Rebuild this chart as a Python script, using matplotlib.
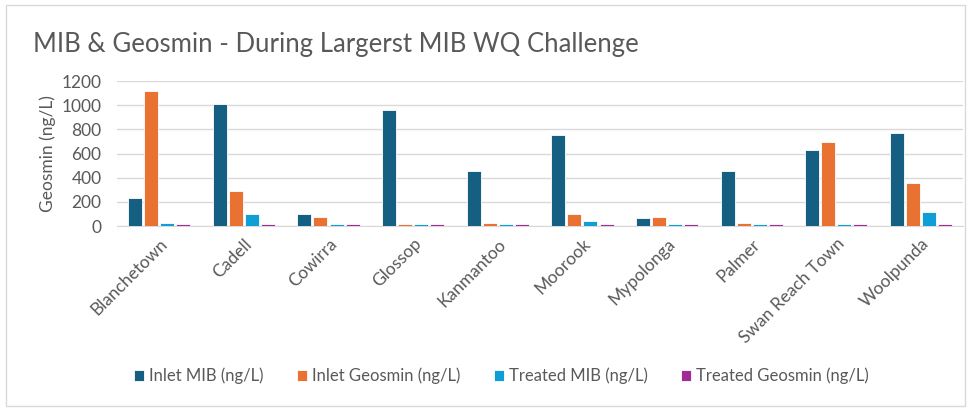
import matplotlib
matplotlib.use("Agg")
import matplotlib.pyplot as plt
import numpy as np
from matplotlib.patches import Rectangle

plt.rcParams['font.family'] = ['Lato', 'DejaVu Sans']

categories = ["Blanchetown", "Cadell", "Cowirra", "Glossop", "Kanmantoo", "Moorook",
              "Mypolonga", "Palmer", "Swan Reach Town", "Woolpunda"]
inlet_mib = [230, 1010, 100, 958, 455, 756, 64, 455, 629, 770]
inlet_geosmin = [1120, 290, 77, 15, 25, 102, 77, 25, 695, 353]
treated_mib = [25, 102, 15, 15, 15, 39, 15, 15, 15, 113]
treated_geosmin = [15, 15, 15, 15, 15, 15, 15, 15, 15, 15]

series = [
    ("Inlet MIB (ng/L)", inlet_mib, "#156082"),
    ("Inlet Geosmin (ng/L)", inlet_geosmin, "#E97132"),
    ("Treated MIB (ng/L)", treated_mib, "#0F9ED5"),
    ("Treated Geosmin (ng/L)", treated_geosmin, "#A02B93"),
]

fig = plt.figure(figsize=(9.74, 4.08), dpi=100)
ax = fig.add_axes([0.120, 0.446, 0.869, 0.355])

x = np.arange(len(categories))
slot = 0.19
bw = 0.165
for i, (name, vals, col) in enumerate(series):
    ax.bar(x + (i - 1.5) * slot, vals, width=bw, color=col, label=name,
           edgecolor="white", linewidth=0.6, zorder=3)

ax.set_xlim(-0.5, len(categories) - 0.5)
ax.set_ylim(0, 1200)
ax.set_yticks(range(0, 1201, 200))
ax.grid(axis='y', color='#d9d9d9', linewidth=1.0, zorder=0)
for s in ['top', 'right', 'left']:
    ax.spines[s].set_visible(False)
ax.spines['bottom'].set_color('#d9d9d9')
ax.tick_params(axis='both', length=0, colors='#595959', labelsize=12.5)
ax.tick_params(axis='y', pad=11)
ax.set_xticks(x)
ax.set_xticklabels(categories, rotation=45, ha='right', rotation_mode='anchor')
ax.tick_params(axis='x', pad=7)
ax.set_ylabel("Geosmin (ng/L)", fontsize=12.5, color='#595959', labelpad=4)

fig.text(0.034, 0.892, "MIB & Geosmin - During Largerst MIB WQ Challenge",
         fontsize=18.5, color='#595959', va='center', ha='left')

handles, labels = ax.get_legend_handles_labels()
leg = fig.legend(handles, labels, loc='center', bbox_to_anchor=(0.515, 0.078), ncol=4,
                 frameon=False, fontsize=12, handlelength=0.6, handleheight=0.7,
                 handletextpad=0.3, columnspacing=2.0)
for t in leg.get_texts():
    t.set_color('#595959')

fig.patches.append(Rectangle((6 / 974, 0.004), 0.991 - 6 / 974, 0.983, transform=fig.transFigure,
                             fill=False, edgecolor='#d9d9d9', linewidth=1))

fig.savefig("out.png", dpi=100)
